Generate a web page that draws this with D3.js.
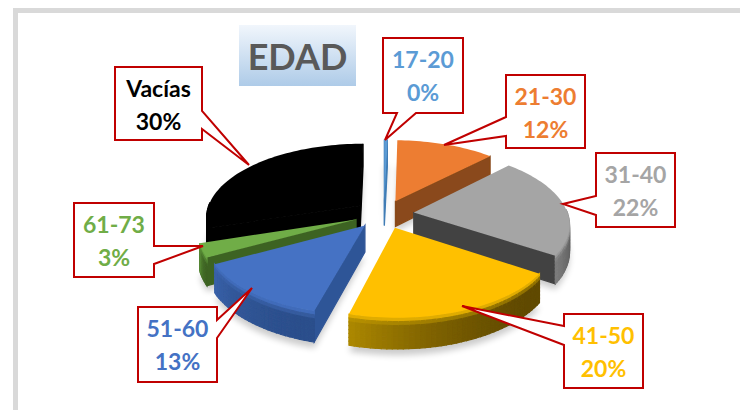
<!DOCTYPE html>
<html>
<head>
<meta charset="utf-8">
<script src="https://cdn.jsdelivr.net/npm/d3@7"></script>
<style>
body{margin:0;background:#fff;}
text{font-family:Lato,"Open Sans",sans-serif;font-weight:700;}
</style>
</head>
<body>
<script>
var w=740;
var h=410;

// data
var categories=["17-20","21-30","31-40","41-50","51-60","61-73","Vacías"];
var values=[0.4,12,22,20,13,3,30];
var title="EDAD";

// colours per slice
var topColors=["#5b9bd5","#ed7d31","#a5a5a5","#ffc000","#4472c4","#70ad47","#000000"];
var wallColors=["#3f7cb5","#8a4a1a","#434343","#9a7400","#2f5597","#3e6324","#000000"];
var rimLight=["#5b9bd5","#b5642a","#8c8c8c","#c09800","#3d66b0","#5d9439","#000000"];
var rimDark=["#3f7cb5","#8a4a1a","#3d3d3d","#604900","#2c4f8c","#3e6324","#000000"];
var labelColors=["#5b9bd5","#ed7d31","#a5a5a5","#ffc000","#4472c4","#70ad47","#000000"];

// callout boxes: [x0,y0,x1,y1, pointer from, tip, pointer to]
var boxes=[
  {x0:383,y0:38,x1:463,y1:113,side:"bottom",a:[397,113],tip:[385,140],b:[416,113]},
  {x0:506,y0:75,x1:585,y1:148,side:"left",a:[506,117],tip:[444,145],b:[506,136]},
  {x0:596,y0:153,x1:675,y1:227,side:"left",a:[596,196],tip:[563,204],b:[596,215]},
  {x0:564,y0:314,x1:643,y1:388,side:"left",a:[564,326],tip:[462,306],b:[564,345]},
  {x0:138,y0:307,x1:217,y1:382,side:"right",a:[217,320],tip:[252,288],b:[217,338]},
  {x0:74,y0:203,x1:154,y1:277,side:"right",a:[154,246],tip:[203,246],b:[154,264]},
  {x0:115,y0:67,x1:202,y1:140,side:"right",a:[202,111],tip:[249,165],b:[202,129]}
];

// perspective pie set up
var cx=384, cy=214, scaleX=154, scaleY=73, persp=0.142;
var explode=0.195, thick=26;

var svg=d3.select("body")
    .append("svg")
    .attr("width",w)
    .attr("height",h)
    .style("display","block");

var defs=svg.append("defs");
var grad=defs.append("linearGradient")
    .attr("id","titleGrad")
    .attr("x1",0).attr("y1",0).attr("x2",0).attr("y2",1);
grad.append("stop").attr("offset","0%").attr("stop-color","#f1f6fc");
grad.append("stop").attr("offset","100%").attr("stop-color","#aecbe8");

defs.append("filter").attr("id","soft")
    .attr("x","-20%").attr("y","-20%").attr("width","140%").attr("height","140%")
    .append("feGaussianBlur").attr("stdDeviation",3);

defs.append("filter").attr("id","smooth")
    .attr("x","-10%").attr("y","-10%").attr("width","120%").attr("height","120%")
    .append("feGaussianBlur").attr("stdDeviation",0.6);

// frame
svg.append("rect")
    .attr("x",15.5)
    .attr("y",10.5)
    .attr("width",w+40)
    .attr("height",h+40)
    .attr("fill","#fff")
    .attr("stroke","#d9d9d9")
    .attr("stroke-width",5);

// title
svg.append("rect")
    .attr("x",239).attr("y",25)
    .attr("width",117).attr("height",61)
    .attr("fill","url(#titleGrad)");
svg.append("text")
    .attr("x",297.5).attr("y",69.5)
    .attr("text-anchor","middle")
    .attr("font-size",36)
    .attr("fill","#595959")
    .text(title);

var project=function(x,y,z){
    var s=1/(1+persp*y);
    return [cx+scaleX*s*x, cy-scaleY*s*y+thick*s*z];
};

var line=d3.line();
var pieData=d3.pie().sort(null).value(function(d){return d;})(values);

var slices=pieData.map(function(d,i){
    var mid=(d.startAngle+d.endAngle)/2;
    return {
        i:i,
        a0:d.startAngle,
        a1:d.endAngle,
        ox:explode*Math.sin(mid),
        oy:explode*Math.cos(mid),
        depth:Math.cos(mid)
    };
}).sort(function(a,b){return d3.descending(a.depth,b.depth);});

var outline=function(s,z){
    var n=Math.max(2,Math.ceil((s.a1-s.a0)/0.03));
    var pts=d3.range(n+1).map(function(k){
        var a=s.a0+(s.a1-s.a0)*k/n;
        return project(s.ox+Math.sin(a),s.oy+Math.cos(a),z);
    });
    pts.push(project(s.ox,s.oy,z));
    return pts;
};

// shadow under the slices, front half only shows
svg.append("g")
    .attr("filter","url(#soft)")
    .attr("opacity",0.2)
    .selectAll("path")
    .data(slices)
    .join("path")
    .attr("d",function(s){return line(outline(s,1.2))+"Z";})
    .attr("fill","#000");

var g=svg.selectAll("g.slice")
    .data(slices)
    .join("g")
    .attr("class","slice")
    .attr("filter","url(#smooth)");

g.each(function(s){
    var sel=d3.select(this);
    var faces=[];

    // the two cut walls
    [s.a0,s.a1].forEach(function(a,j){
        var ax=s.ox+Math.sin(a), ay=s.oy+Math.cos(a);
        var q=[project(s.ox,s.oy,0),project(ax,ay,0),project(ax,ay,1),project(s.ox,s.oy,1)];
        var pa=d3.polygonArea(q);
        var facing=j==0 ? pa>0 : pa<0;
        if(facing){
            faces.push({p:q,c:wallColors[s.i]});
        }
    });

    // rim, split in small pieces so it can be shaded
    var n=Math.max(2,Math.ceil((s.a1-s.a0)/0.03));
    var bands=8;
    for(var k=0;k<n;k++){
        var b0=s.a0+(s.a1-s.a0)*k/n;
        var b1=s.a0+(s.a1-s.a0)*(k+1)/n;
        var x0=s.ox+Math.sin(b0), y0=s.oy+Math.cos(b0);
        var x1=s.ox+Math.sin(b1), y1=s.oy+Math.cos(b1);
        if(Math.cos((b0+b1)/2)>0.05) continue;
        // lighter toward the end of the slice
        var u=(k+0.5)/n;
        var base=d3.interpolateRgb(rimDark[s.i],rimLight[s.i])(u*u*0.8);
        for(var t=0;t<bands;t++){
            var z0=t/bands, z1=(t+1)/bands;
            var col;
            if(t==0){
                col=d3.interpolateRgb(topColors[s.i],rimLight[s.i])(0.5);
            }else if(t==1){
                col=d3.interpolateRgb(rimLight[s.i],base)(0.5);
            }else{
                col=base;
            }
            faces.push({
                p:[project(x0,y0,z0),project(x1,y1,z0),project(x1,y1,z1),project(x0,y0,z1)],
                c:col
            });
        }
    }

    sel.selectAll("path.face")
        .data(faces)
        .join("path")
        .attr("class","face")
        .attr("d",function(f){return line(f.p)+"Z";})
        .attr("fill",function(f){return f.c;})
        .attr("stroke",function(f){return f.c;})
        .attr("stroke-width",1.2);

    sel.append("path")
        .attr("d",line(outline(s,0))+"Z")
        .attr("fill",topColors[s.i]);
});

// callouts
var callouts=svg.selectAll("g.callout")
    .data(boxes)
    .join("g")
    .attr("class","callout");

callouts.append("path")
    .attr("d",function(b){
        var pts=[[b.x0,b.y0],[b.x1,b.y0]];
        if(b.side=="right"){
            pts=pts.concat([b.a,b.tip,b.b,[b.x1,b.y1],[b.x0,b.y1]]);
        }else if(b.side=="bottom"){
            pts=pts.concat([[b.x1,b.y1],b.b,b.tip,b.a,[b.x0,b.y1]]);
        }else{
            pts=pts.concat([[b.x1,b.y1],[b.x0,b.y1],b.b,b.tip,b.a]);
        }
        return line(pts)+"Z";
    })
    .attr("fill","#fff")
    .attr("stroke","#c00000")
    .attr("stroke-width",2);

callouts.append("text")
    .attr("x",function(b){return (b.x0+b.x1)/2;})
    .attr("y",function(b){return b.y0+30;})
    .attr("text-anchor","middle")
    .attr("font-size",23)
    .attr("fill",function(b,i){return labelColors[i];})
    .text(function(b,i){return categories[i];});

callouts.append("text")
    .attr("x",function(b){return (b.x0+b.x1)/2;})
    .attr("y",function(b){return b.y0+63;})
    .attr("text-anchor","middle")
    .attr("font-size",23)
    .attr("fill",function(b,i){return labelColors[i];})
    .text(function(b,i){return Math.round(values[i])+"%";});
</script>
</body>
</html>
